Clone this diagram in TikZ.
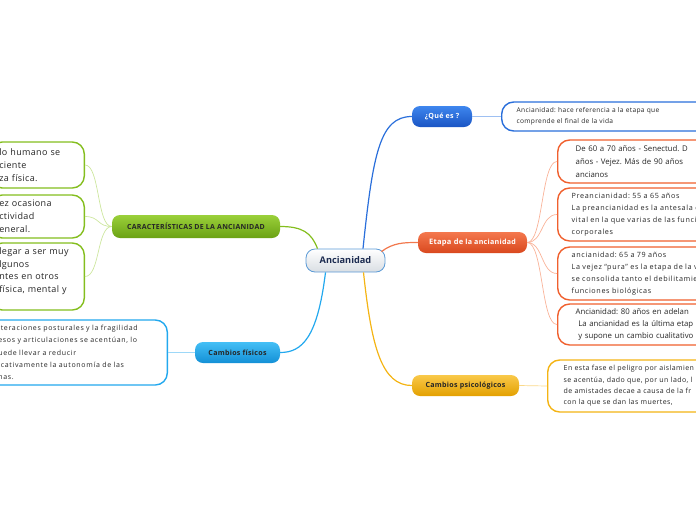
\documentclass[tikz,border=0pt]{standalone}
\usepackage{fontspec}
\setmainfont{Open Sans}
\usetikzlibrary{shapes,arrows,positioning,calc,shadings}
\frenchspacing
\newcommand{\tracked}[1]{\addfontfeatures{LetterSpace=#1}}

\definecolor{ancline}{HTML}{5A9AD6}
\definecolor{ancbot}{HTML}{D9DEE3}
\definecolor{ancnavy}{HTML}{1C2B50}
\definecolor{quecol}{HTML}{2A6FDB}
\definecolor{quetop}{HTML}{3E86EE}
\definecolor{quebot}{HTML}{1A55C4}
\definecolor{quelt}{HTML}{9EC0F2}
\definecolor{etapacol}{HTML}{F0602E}
\definecolor{etapatop}{HTML}{F4784E}
\definecolor{etapabot}{HTML}{D9481E}
\definecolor{etapalt}{HTML}{F9B399}
\definecolor{psicol}{HTML}{F4B414}
\definecolor{psitop}{HTML}{F9C94A}
\definecolor{psibot}{HTML}{E3A000}
\definecolor{psilt}{HTML}{FAD98A}
\definecolor{fiscol}{HTML}{22A8EE}
\definecolor{fistop}{HTML}{44BFF6}
\definecolor{fisbot}{HTML}{1390D6}
\definecolor{fislt}{HTML}{9DD8F8}
\definecolor{caraccol}{HTML}{84BE1E}
\definecolor{caractop}{HTML}{9AD03A}
\definecolor{caracbot}{HTML}{6BA214}
\definecolor{caraclt}{HTML}{CDE69E}

\begin{document}
\begin{tikzpicture}[
    x=1pt, y=-1pt,
    central/.style={rectangle, rounded corners=9pt, draw=ancline, thick, top color=white, bottom color=ancbot, minimum width=79pt, minimum height=23pt, text=ancnavy, font=\fontsize{9.2}{10}\selectfont\bfseries},
    topic/.style={rectangle, rounded corners=8pt, minimum height=21pt, inner sep=0pt, font=\fontsize{7.1}{9}\selectfont\bfseries\tracked{4}},
    detail/.style={rectangle, rounded corners=12pt, line width=1.4pt, fill=white, align=left, inner ysep=0pt, text=black!85},
    link/.style={line width=1.2pt},
    sublink/.style={line width=0.7pt}
]
\useasboundingbox (0,0) rectangle (696,520);
\clip (0,0) rectangle (696,520);

% central topic
\node[central] (anc) at (345.5,260.5) {Ancianidad};

% main topics
\node[topic, minimum width=60pt, top color=quetop, bottom color=quebot, text=white] (que) at (442,116.5) {¿Qué es ?};
\node[topic, minimum width=109pt, top color=etapatop, bottom color=etapabot, text=white] (etapa) at (472.5,242.5) {{\fontsize{7.5}{9}\selectfont\tracked{4}Etapa de} la ancianidad};
\node[topic, minimum width=107pt, top color=psitop, bottom color=psibot, text=black!85] (psi) at (465.5,385.5) {Cambios psicológicos};
\node[topic, minimum width=85pt, top color=fistop, bottom color=fisbot, text=black!85] (fis) at (237.5,352.5) {Cambios físicos};
\node[topic, minimum width=168pt, minimum height=23pt, top color=caractop, bottom color=caracbot, text=black!85, font=\fontsize{7}{8}\selectfont\bfseries\tracked{4}] (carac) at (196,226.5) {CARACTERÍSTICAS DE LA ANCIANIDAD};

% details
\node[detail, draw=quecol, anchor=west, inner xsep=15pt, text width=220pt, minimum height=29pt, font=\fontsize{6.6}{11}\selectfont\tracked{5}] (queTxt) at (501,116.5) {Ancianidad: hace referencia a la etapa que\\comprende el final de la vida};

\node[detail, draw=etapacol, anchor=west, inner xsep=18pt, text width=200pt, minimum height=43pt, font=\fontsize{7.8}{13}\selectfont] (e1) at (557,161.5) {De 60 a 70 años - Senectud. D\\años - Vejez. Más de 90 años\\ancianos};
\node[detail, draw=etapacol, anchor=west, inner xsep=14pt, text width=200pt, minimum height=53pt, font=\fontsize{7.2}{12}\selectfont\tracked{9}] (e2) at (557,214.5) {Preancianidad: 55 a 65 años\\La preancianidad es la antesala d\\vital en la que varias de las funcio\\corporales};
\node[detail, draw=etapacol, anchor=west, inner xsep=14pt, text width=200pt, minimum height=53pt, font=\fontsize{7.2}{12}\selectfont\tracked{9}] (e3) at (557,273.5) {ancianidad: 65 a 79 años\\La vejez “pura” es la etapa de la v\\se consolida tanto el debilitamien\\funciones biológicas};
\node[detail, draw=etapacol, anchor=west, inner xsep=18pt, text width=200pt, minimum height=41pt, font=\fontsize{7.8}{12}\selectfont] (e4) at (557,324.5) {Ancianidad: 80 años en adelan\\\ La ancianidad es la última etap\\\ y supone un cambio cualitativo};

\node[detail, draw=psicol, anchor=west, inner xsep=16pt, text width=200pt, minimum height=52pt, font=\fontsize{7}{11.3}\selectfont\tracked{6}] (psiTxt) at (547,386) {En esta fase el peligro por aislamien\\se acentúa, dado que, por un lado, l\\de amistades decae a causa de la fr\\con la que se dan las muertes,};

\node[detail, draw=fiscol, anchor=east, inner xsep=14pt, text width=155pt, minimum height=65pt, font=\fontsize{7}{12.4}\selectfont\tracked{10}] (fisTxt) at (168,352.5) {lteraciones posturales y la fragilidad\\esos y articulaciones se acentúan, lo\\uede llevar a reducir\\icativamente la autonomía de las\\nas.};

\node[detail, draw=caraccol, anchor=east, inner xsep=9pt, text width=76pt, minimum height=46pt, font=\fontsize{9}{13}\selectfont\tracked{4}] (c1) at (85,165) {lo humano se\\ciente\\za física.};
\node[detail, draw=caraccol, anchor=east, inner xsep=9pt, text width=76pt, minimum height=43pt, font=\fontsize{9}{13}\selectfont\tracked{4}] (c2) at (85,216.5) {ez ocasiona\\ctividad\\eneral.};
\node[detail, draw=caraccol, anchor=east, inner xsep=9pt, text width=76pt, minimum height=67pt, font=\fontsize{9}{12.6}\selectfont\tracked{4}] (c3) at (85,276.5) {legar a ser muy\\lgunos\\ntes en otros\\física, mental y\\\mbox{}};

% main links
\draw[link, quecol] ($(anc.north)+(17.5,0)$) .. controls +(10,-95) and +(-32,0) .. (que.west);
\draw[link, etapacol!85] ($(anc.north east)+(-4,3)$) .. controls +(12,-9) and +(-14,0) .. (etapa.west);
\draw[link, psicol] ($(anc.south)+(18,0)$) .. controls +(8,75) and +(-30,0) .. (psi.west);
\draw[link, fiscol] ($(anc.south)+(-20,0)$) .. controls +(-8,65) and +(22,0) .. (fis.east);
\draw[link, caraccol] ($(anc.north)+(-28,0)$) .. controls +(-6,-16) and +(22,0) .. (carac.east);

% detail links
\draw[sublink, quelt] (que.east) -- (queTxt.west);
\foreach \d in {e1,e2,e3,e4}
  \draw[sublink, etapalt] (etapa.east) .. controls +(16,0) and +(-16,0) .. (\d.west);
\draw[sublink, psilt] (psi.east) -- (psiTxt.west);
\draw[sublink, fislt] (fis.west) -- (fisTxt.east);
\foreach \d in {c1,c2,c3}
  \draw[sublink, caraclt] (carac.west) .. controls +(-15,0) and +(15,0) .. (\d.east);

\end{tikzpicture}
\end{document}
